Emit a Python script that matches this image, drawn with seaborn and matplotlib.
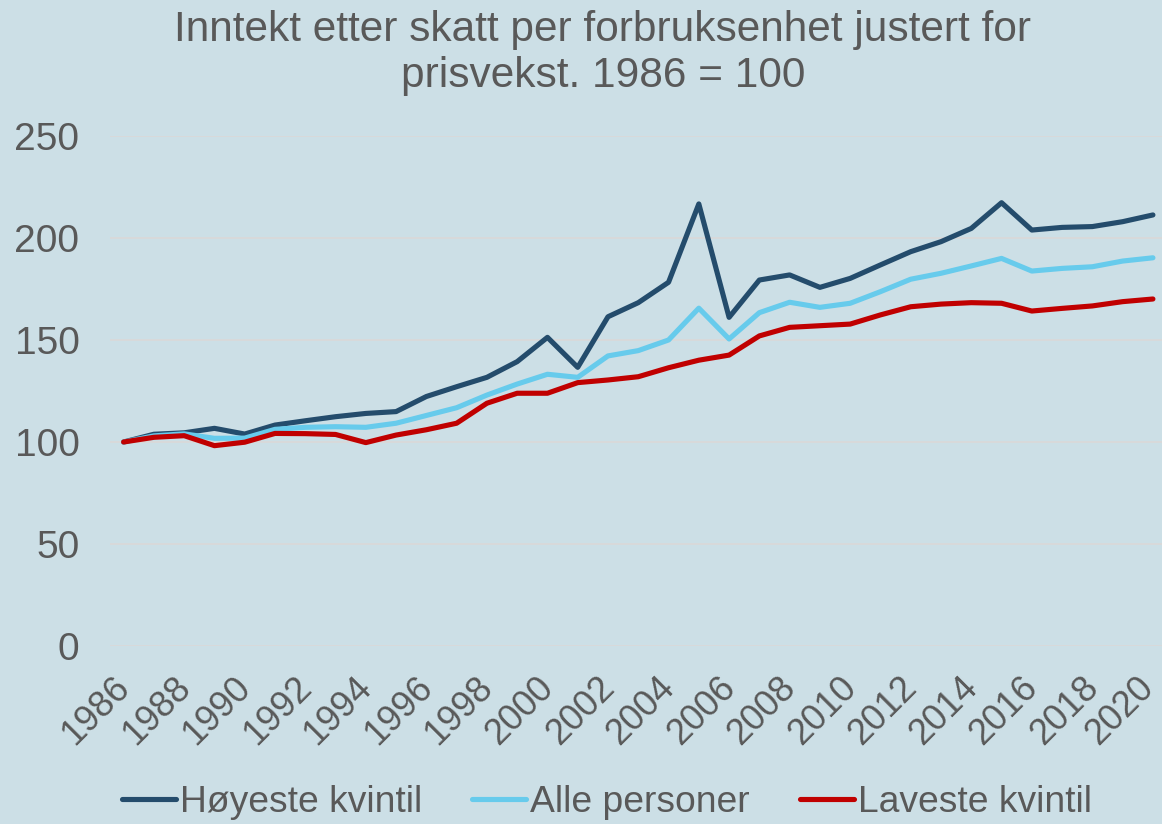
import matplotlib
matplotlib.use("Agg")
import matplotlib.pyplot as plt
import matplotlib.transforms as mtransforms
import seaborn as sns
import pandas as pd

years = list(range(1986, 2021))
hoyeste = [100, 103.8, 104.5, 106.7, 103.9, 108.3, 110.4, 112.4, 114.0, 114.9,
           122.3, 127.1, 131.7, 139.4, 151.3, 136.6, 161.4, 168.3, 178.3, 216.7,
           161.1, 179.4, 181.9, 175.8, 180.2, 186.8, 193.3, 198.2, 204.7, 217.3,
           203.9, 205.2, 205.6, 208.0, 211.3]
alle = [100, 103.0, 104.0, 101.8, 101.9, 106.2, 107.2, 107.5, 107.2, 109.2,
        113.0, 116.8, 123.0, 128.4, 133.2, 131.7, 142.2, 144.8, 150.0, 165.6,
        150.5, 163.4, 168.5, 166.0, 168.0, 173.7, 179.8, 182.7, 186.3, 190.0,
        183.8, 185.1, 185.9, 188.7, 190.3]
laveste = [100, 102.3, 103.1, 98.2, 99.9, 104.2, 104.1, 103.7, 99.7, 103.4,
           106.0, 109.2, 119.0, 123.9, 123.9, 129.1, 130.4, 132.0, 136.4, 140.1,
           142.6, 152.0, 156.2, 157.0, 157.8, 162.3, 166.3, 167.6, 168.3, 168.0,
           164.2, 165.5, 166.7, 168.8, 170.1]
series_names = ["Høyeste kvintil", "Alle personer", "Laveste kvintil"]
colors = ["#244C6C", "#67CBEC", "#C00000"]
title = "Inntekt etter skatt per forbruksenhet justert for\nprisvekst. 1986 = 100"
yticks = [0, 50, 100, 150, 200, 250]
xticks = list(range(1986, 2021, 2))

df = pd.concat([
    pd.DataFrame({"year": years, "value": vals, "series": name})
    for name, vals in zip(series_names, [hoyeste, alle, laveste])
])

bg = "#CCDFE6"
sns.set_theme(style="white")
plt.rcParams["font.family"] = ["Liberation Sans", "DejaVu Sans"]

fig = plt.figure(figsize=(11.62, 8.24), dpi=100, facecolor=bg)
ax = fig.add_axes([110/1162, (824-646)/824, (1162-110)/1162, (646-136)/824])
ax.set_facecolor(bg)

sns.lineplot(data=df, x="year", y="value", hue="series", hue_order=series_names,
             palette=colors, linewidth=3.7, ax=ax, legend=False,
             solid_capstyle="round", solid_joinstyle="round")

ax.set_xlim(1985.55, 2020.3)
ax.set_ylim(0, 250)
ax.set_yticks(yticks)
ax.set_xticks(xticks)
ax.set_xticklabels([str(x) for x in xticks], rotation=45, ha="right", va="center",
                   rotation_mode="anchor")
ax.grid(axis="y", color="#D9D9D9", linewidth=1.3)
ax.set_axisbelow(True)
for s in ax.spines.values():
    s.set_visible(False)
ax.tick_params(axis="both", length=0, colors="#595959")
ax.tick_params(axis="y", pad=22, labelsize=28)
ax.tick_params(axis="x", pad=26, labelsize=26)
labels = ax.get_xticklabels()
for i, lab in enumerate(labels):
    dx = 1 if i < len(labels) - 1 else -5
    shift = mtransforms.ScaledTranslation(dx/100, 0, fig.dpi_scale_trans)
    lab.set_transform(lab.get_transform() + shift)
ax.set_xlabel("")
ax.set_ylabel("")

fig.text(603/1162, 1 - 53/824, title, ha="center", va="center", fontsize=30.5,
         color="#595959", linespacing=1.18)

handles = [plt.Line2D([], [], color=c, linewidth=3.7, solid_capstyle="round")
           for c in colors]
fig.legend(handles, series_names, loc="center", bbox_to_anchor=(607/1162, 1 - 803/824),
           ncol=3, frameon=False, fontsize=26.8, labelcolor="#595959",
           handlelength=1.45, handletextpad=0.1, columnspacing=1.35,
           borderaxespad=0)

fig.savefig("out.png", dpi=100, facecolor=bg)
